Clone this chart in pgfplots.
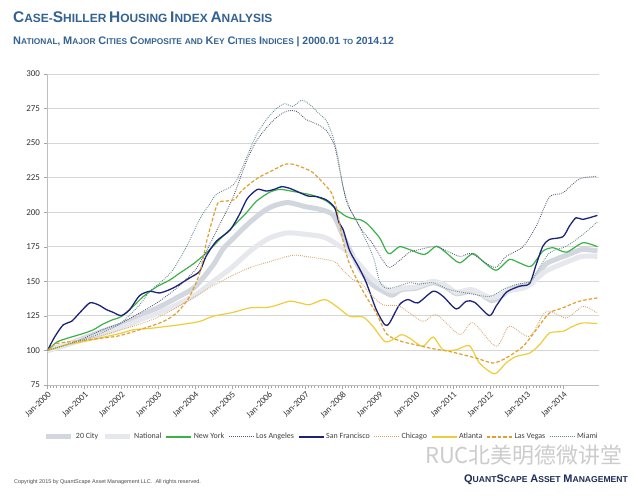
\documentclass[border=0pt]{standalone}
\usepackage{fontspec}
\setmainfont{Carlito}
\newfontfamily\hfont{Liberation Sans}
\newfontfamily\cjk{Noto Sans CJK SC}
\usepackage{pgfplots}
\pgfplotsset{compat=1.18}

\definecolor{titleblue}{RGB}{52,98,145}
\definecolor{qnavy}{RGB}{30,45,85}
\definecolor{cTwenty}{RGB}{210,214,222}
\definecolor{cNat}{RGB}{230,232,237}
\definecolor{cNY}{RGB}{58,178,72}
\definecolor{cLA}{RGB}{85,85,120}
\definecolor{cSF}{RGB}{28,35,120}
\definecolor{cChi}{RGB}{214,165,106}
\definecolor{cAtl}{RGB}{238,205,60}
\definecolor{cLV}{RGB}{224,160,48}
\definecolor{cMia}{RGB}{95,135,135}

\newcommand\tsc[2]{{\fontsize{15.5}{16}\selectfont #1}{\fontsize{12}{13}\selectfont #2}}
\newcommand\ssc[2]{{\fontsize{11}{12}\selectfont #1}{\fontsize{8.4}{9}\selectfont #2}}
\newcommand\qsc[2]{{\fontsize{11}{12}\selectfont #1}{\fontsize{8.6}{9}\selectfont #2}}

\begin{document}
\begin{tikzpicture}[x=1bp,y=1bp]
\fill[white] (0,0) rectangle (638,499);
\useasboundingbox (0,0) rectangle (638,499);
\begin{axis}[
    at={(47.5bp,114bp)}, anchor=south west,
    scale only axis, width=551bp, height=311bp,
    xmin=0, xmax=14.95, ymin=75, ymax=300,
    ytick={75,100,...,300},
    xtick={0,...,14},
    xticklabels={Jan-2000,Jan-2001,Jan-2002,Jan-2003,Jan-2004,Jan-2005,Jan-2006,Jan-2007,Jan-2008,Jan-2009,Jan-2010,Jan-2011,Jan-2012,Jan-2013,Jan-2014},
    minor x tick num=11,
    axis x line*=bottom, axis y line*=left,
    axis line style={draw=black!25, line width=0.8pt},
    ymajorgrids, grid style={draw=black!16, line width=0.8pt},
    tick style={draw=black!35, line width=0.5pt},
    major tick length=4bp, minor tick length=3bp,
    tick align=outside,
    /pgf/number format/assume math mode=true,
    xticklabel style={rotate=45, anchor=north east, font=\fontsize{9}{10}\selectfont, text=black!80, inner sep=1pt},
    yticklabel style={font=\fontsize{9}{10}\selectfont, text=black!80},
    legend columns=9,
    legend style={draw=none, fill=none, at={(0.498,-0.167)}, anchor=center,
        font=\fontsize{8}{9}\selectfont, text=black!75, inner sep=0pt,
        /tikz/every even column/.append style={column sep=2bp}},
    legend image code/.code={\draw[#1] (0bp,0bp) -- (25bp,0bp);},
    every axis plot/.append style={smooth, tension=0.45},
]
% 20 City
\addplot[cTwenty, line width=5bp] coordinates {
(0,100) (0.5,104) (1,109) (1.5,114) (2,118.5) (2.5,125) (3,131) (3.5,138) (4,146) (4.5,162) (4.75,173) (5,180) (5.5,193) (6,203) (6.5,207) (7,204) (7.4,202) (7.75,198) (8,184) (8.25,170) (8.5,158) (8.8,148) (9.1,143) (9.35,140) (9.6,144) (10,145) (10.45,149) (10.8,146) (11.1,141) (11.5,143) (11.8,140) (12.05,136) (12.3,139) (12.55,144) (12.9,147) (13.15,149) (13.5,162) (13.8,166) (14.1,169) (14.5,173) (14.92,172)
};
\addlegendentry{20 City}
% National
\addplot[cNat, line width=5bp] coordinates {
(0,100) (0.5,104) (1,108) (1.5,112) (2,116.5) (2.5,122) (3,127) (3.5,133) (4,140) (4.5,150) (5,160) (5.5,172) (6,181) (6.5,185) (7,184) (7.5,182) (7.9,176) (8.2,170) (8.5,161) (8.8,152) (9.1,146) (9.35,143) (9.6,145) (10,146) (10.45,150) (10.8,147) (11.1,142) (11.5,144) (12.05,138) (12.5,143) (13,146) (13.5,157) (14,163) (14.5,168) (14.92,168)
};
\addlegendentry{National}
% New York
\addplot[cNY, line width=1.2bp] coordinates {
(0,100) (0.25,106) (0.5,108.5) (0.75,110.5) (1,112.5) (1.25,115) (1.5,119) (1.75,122) (2,124.5) (2.33,132) (2.6,139) (2.96,146) (3.32,151) (3.59,156) (3.95,162.5) (4.31,170.6) (4.76,182.7) (5,188.8) (5.22,194.8) (5.4,199.7) (5.67,208) (6.03,214.5) (6.3,216.5) (6.57,215.5) (6.93,213.7) (7.2,212.2) (7.57,208.1) (7.84,202) (8.1,197) (8.29,195.3) (8.51,194.3) (8.69,191.2) (9.01,181.5) (9.19,172) (9.3,170) (9.55,175) (9.82,173) (10.23,169.4) (10.55,175.4) (10.82,170.6) (11.18,163.4) (11.54,170.1) (11.81,164.6) (12.17,158) (12.53,165.8) (12.8,163.4) (13.12,160.9) (13.44,171.8) (13.72,174.3) (14.08,171.1) (14.53,177.9) (14.92,175)
};
\addlegendentry{New York}
% Los Angeles
\addplot[cLA, line width=0.9bp, dash pattern=on 0.8bp off 1.2bp] coordinates {
(0,100) (0.5,104) (1,109) (1.5,115) (2,120) (2.5,127) (3,135) (3.5,145) (4,158) (4.31,172) (4.67,191) (5.03,210.5) (5.4,237) (5.67,251.6) (5.94,261) (6.21,268.5) (6.48,273) (6.75,273) (7.02,267) (7.29,264) (7.57,259) (7.79,248) (7.93,230) (8.11,208) (8.29,198) (8.56,186) (8.83,177) (9.1,165) (9.28,160) (9.55,165) (9.82,171) (10.1,173) (10.55,175) (11.18,168) (11.5,170) (12.13,160) (12.44,168) (12.9,175) (13.26,190) (13.62,211) (13.98,214) (14.43,224) (14.92,226)
};
\addlegendentry{Los Angeles}
% San Francisco
\addplot[cSF, line width=1.3bp] coordinates {
(0,100) (0.2,110) (0.43,118.6) (0.65,121) (0.9,128) (1.15,134.4) (1.38,133) (1.6,129.5) (1.78,127.6) (2,125.2) (2.23,129.5) (2.5,139.7) (2.78,142.8) (3.05,141.6) (3.41,145.2) (3.86,152.5) (4.13,157.3) (4.3,168) (4.58,179) (4.95,187) (5.2,198) (5.4,209) (5.53,213) (5.71,216.6) (5.94,215.3) (6.16,216.6) (6.35,218.5) (6.57,217.3) (6.84,214.2) (7.07,211.7) (7.3,211.3) (7.57,208.8) (7.79,203.3) (7.91,192.4) (8.02,187.5) (8.2,172) (8.45,160) (8.65,148.9) (8.92,129.5) (9.15,118.6) (9.28,119.9) (9.55,133.1) (9.78,136.8) (10.05,134.4) (10.46,142.8) (10.73,139.2) (11.09,130) (11.36,135.6) (11.59,134.8) (11.99,125.2) (12.17,132) (12.45,142.1) (12.8,146.4) (13.08,148.4) (13.26,162.2) (13.44,175.4) (13.62,180.3) (13.98,182.2) (14.16,189.9) (14.34,196) (14.52,194.8) (14.92,197.7)
};
\addlegendentry{San Francisco}
% Chicago
\addplot[cChi, line width=0.9bp, dash pattern=on 0.8bp off 1.2bp] coordinates {
(0,100) (0.5,104) (1,107.5) (1.5,111) (2,115) (2.5,119) (3,124) (3.5,131) (4,139) (4.5,147) (5,154) (5.5,160) (6,164) (6.5,168) (6.75,169) (7,168) (7.5,166) (7.8,164) (8.02,158) (8.3,151) (8.5,149) (8.75,141) (9.1,133) (9.55,132) (10.18,121) (10.55,126) (11.18,111.4) (11.54,120) (12.17,103) (12.53,117.4) (13.08,110.2) (13.53,128.3) (14.08,123.5) (14.53,131.9) (14.92,127)
};
\addlegendentry{Chicago}
% Atlanta
\addplot[cAtl, line width=1.2bp] coordinates {
(0,100) (0.52,104) (1,106.5) (1.42,109) (2,112.5) (2.33,115) (2.8,116) (3.23,117.4) (3.6,118.6) (4.13,121) (4.49,124.7) (5.03,127.5) (5.49,130.8) (5.94,131) (6.12,131.9) (6.57,135.6) (6.84,134.4) (7.11,133.1) (7.52,136.8) (7.84,131.9) (8.2,124.7) (8.56,124.2) (8.83,117.4) (9.15,106.5) (9.37,107.8) (9.6,111.4) (9.82,109) (10.18,102.9) (10.46,109.7) (10.73,100.5) (11.09,100.5) (11.45,103.4) (11.72,90.9) (12.13,83.1) (12.44,90.9) (12.71,95.6) (13.08,98.1) (13.35,104.1) (13.62,112.6) (13.98,113.8) (14.25,117.4) (14.52,119.9) (14.92,119.4)
};
\addlegendentry{Atlanta}
% Las Vegas
\addplot[cLV, line width=1.2bp, dash pattern=on 3.5bp off 2bp] coordinates {
(0,100) (0.25,105) (0.7,106.5) (1.15,107.8) (1.5,109) (1.87,110.2) (2.2,112.5) (2.5,115) (3.05,119.9) (3.35,124) (3.59,129.5) (3.86,139.2) (4.13,156) (4.31,178) (4.49,196) (4.63,206.9) (4.86,208.1) (5.08,209.3) (5.26,215.3) (5.53,221.4) (5.8,226.2) (6.12,230.4) (6.44,234.7) (6.66,234.7) (6.93,232.3) (7.2,228.7) (7.47,221.4) (7.7,214.2) (7.84,203) (8.02,179) (8.2,162.2) (8.56,142.8) (8.92,127) (9.2,112) (9.55,107) (10,104) (10.5,101) (10.9,99.3) (11.63,94.5) (12.08,90.9) (12.44,94.5) (12.9,102.9) (13.26,115) (13.62,127.1) (13.98,130.8) (14.43,135.6) (14.92,138)
};
\addlegendentry{Las Vegas}
% Miami
\addplot[cMia, line width=0.9bp, dash pattern=on 0.8bp off 1.2bp] coordinates {
(0,100) (0.5,104) (1,108) (1.5,113) (2,120) (2.5,133) (2.78,143) (3.1,150) (3.41,158.5) (3.77,175) (4.13,195) (4.4,206) (4.585,213) (4.95,218) (5.13,223) (5.4,239.5) (5.67,256) (5.94,267) (6.21,275) (6.44,278.5) (6.66,276.5) (6.89,281) (7.11,278) (7.34,272) (7.57,266) (7.75,254) (7.88,240) (8.02,218) (8.2,203) (8.38,194) (8.56,184) (8.74,174) (8.87,165) (9.01,150) (9.19,145) (9.46,146) (9.82,149) (10.1,148) (10.46,149) (10.9,144) (11.36,141.6) (11.99,139) (12.35,144) (12.71,147.7) (13.12,150) (13.26,156) (13.62,170.6) (14.08,175.4) (14.53,184) (14.92,193)
};
\addlegendentry{Miami}
\end{axis}
\node[anchor=base west, inner sep=0pt, text=titleblue, font=\hfont\bfseries] at (13,476)
  {\tsc{C}{ASE-}\tsc{S}{HILLER} \tsc{H}{OUSING} \tsc{I}{NDEX} \tsc{A}{NALYSIS}};
\node[anchor=base west, inner sep=0pt, text=titleblue, font=\hfont\bfseries] at (13,454)
  {\ssc{N}{ATIONAL}, \ssc{M}{AJOR} \ssc{C}{ITIES} \ssc{C}{OMPOSITE} \ssc{}{AND} \ssc{K}{EY} \ssc{C}{ITIES} \ssc{I}{NDICES} {\fontsize{10.5}{11}\selectfont | 2000.01} {\fontsize{7.5}{8}\selectfont TO} {\fontsize{10.5}{11}\selectfont 2014.12}};
\node[anchor=west, inner sep=0pt, text=black!20, font=\cjk\fontsize{22}{24}\selectfont] at (425,44) {RUC北美明德微讲堂};
\node[anchor=base west, inner sep=0pt, text=black!70, font=\hfont\fontsize{5.5}{6}\selectfont] at (14,15)
  {Copyright 2015 by QuantScape Asset Management LLC.\ \ All rights reserved.};
\node[anchor=base east, inner sep=0pt, text=qnavy, font=\hfont\bfseries] at (628,16)
  {\qsc{Q}{UANT}\qsc{S}{CAPE} \qsc{A}{SSET} \qsc{M}{ANAGEMENT}};
\end{tikzpicture}
\end{document}
